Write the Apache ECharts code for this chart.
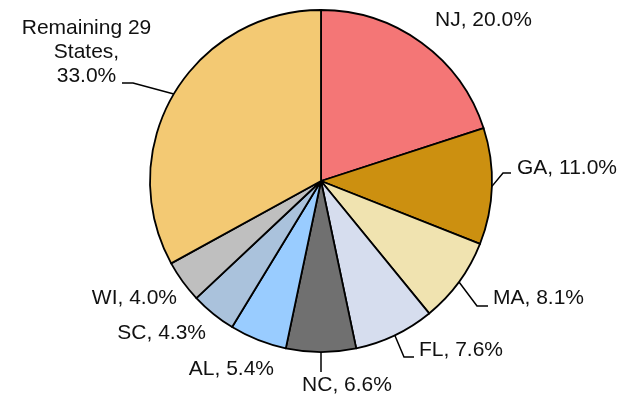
<!DOCTYPE html>
<html>
<head>
<meta charset="utf-8">
<script src="https://cdn.jsdelivr.net/npm/echarts@6/dist/echarts.min.js"></script>
<style>
  html, body { margin: 0; padding: 0; background: #ffffff; }
  #chart { width: 634px; height: 394px; }
</style>
</head>
<body>
<div id="chart"></div>
<script>
// Share of total by state
const states = ['NJ', 'GA', 'MA', 'FL', 'NC', 'AL', 'SC', 'WI', 'Remaining 29\nStates'];
const shares = [20.0, 11.0, 8.1, 7.6, 6.6, 5.4, 4.3, 4.0, 33.0];
const sliceColors = ['#F47676', '#CC9010', '#F0E3B0', '#D6DDEE', '#707070',
                     '#99CCFF', '#AAC2DC', '#BFBFBF', '#F3C973'];

// Pie geometry
const CENTER = [321, 181];
const RADIUS = 171;

// Label placement: anchor, alignment and, where drawn, the leader line's end and kink
const labelSpots = [
  { x: 435,  y: 20,    align: 'left' },
  { x: 517,  y: 168,   align: 'left',   lineEnd: [511, 173], kink: 8 },
  { x: 493,  y: 298,   align: 'left',   lineEnd: [488, 306], kink: 11 },
  { x: 419,  y: 350.5, align: 'left',   lineEnd: [414, 357], kink: 10 },
  { x: 347,  y: 385,   align: 'center', lineEnd: [321, 372], kink: 0 },
  { x: 274,  y: 369,   align: 'right' },
  { x: 206,  y: 333,   align: 'right' },
  { x: 177,  y: 298,   align: 'right' },
  { x: 86.5, y: 52,    align: 'center', lineEnd: [122, 83], kink: -11 }
];

// Mid-angle of each slice (clockwise from 12 o'clock), used for the leader line start
const total = shares.reduce((a, b) => a + b, 0);
const midAngles = [];
let acc = 0;
shares.forEach(v => {
  midAngles.push(((acc + v / 2) / total) * Math.PI * 2);
  acc += v;
});

const data = states.map((name, i) => ({
  name: name,
  value: shares[i],
  itemStyle: { color: sliceColors[i] },
  labelLine: { show: !!labelSpots[i].lineEnd }
}));

const chart = echarts.init(document.getElementById('chart'), null, { renderer: 'canvas' });
chart.setOption({
  animation: false,
  backgroundColor: '#ffffff',
  series: [{
    type: 'pie',
    center: CENTER,
    radius: RADIUS,
    startAngle: 90,
    clockwise: true,
    avoidLabelOverlap: false,
    silent: true,
    data: data,
    itemStyle: { borderColor: '#000000', borderWidth: 1.8 },
    label: {
      show: true,
      position: 'outside',
      color: '#111111',
      fontFamily: '"Liberation Sans", Arial, sans-serif',
      fontSize: 21,
      lineHeight: 24,
      formatter: p => {
        const sep = p.name.indexOf('\n') >= 0 ? ',\n' : ', ';
        return p.name + sep + p.value.toFixed(1) + '%';
      }
    },
    labelLine: {
      show: true,
      length: 10,
      length2: 10,
      lineStyle: { color: '#000000', width: 1.5 }
    },
    labelLayout: params => {
      const i = params.dataIndex;
      const s = labelSpots[i];
      const out = { x: s.x, y: s.y, align: s.align, verticalAlign: 'middle' };
      if (s.lineEnd) {
        const a = midAngles[i];
        const start = [CENTER[0] + RADIUS * Math.sin(a), CENTER[1] - RADIUS * Math.cos(a)];
        const bend = [s.lineEnd[0] - s.kink, s.lineEnd[1]];
        out.labelLinePoints = [start, bend, s.lineEnd];
      }
      return out;
    }
  }]
});
</script>
</body>
</html>
